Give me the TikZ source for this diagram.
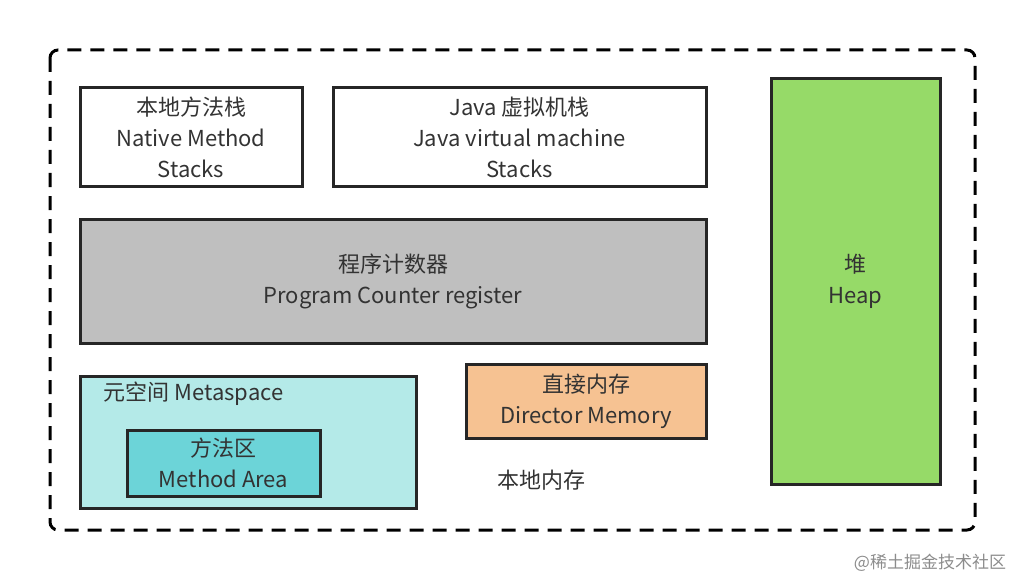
\documentclass[tikz,border=0pt]{standalone}
\usepackage{fontspec}
\setmainfont{Noto Sans CJK SC}
\begin{document}
\begin{tikzpicture}[x=1pt,y=-1pt,
 box/.style={draw=black!85,line width=3pt,align=center,font=\fontsize{22}{31}\selectfont,text=black!80},
 lbl/.style={font=\fontsize{22}{31}\selectfont,text=black!80}]
\useasboundingbox (0,0) rectangle (1024,580);
\draw[line width=3pt,dash pattern=on 14pt off 9pt,rounded corners=8pt] (50,50) rectangle (975,530);
\node[box,fill=white,minimum width=222pt,minimum height=98pt] (nat) at (191,137) {本地方法栈\\Native Method\\Stacks};
\node[box,fill=white,minimum width=373pt,minimum height=98pt] (jvm) at (519.5,137) {Java 虚拟机栈\\Java virtual machine\\Stacks};
\node[box,fill=black!25,minimum width=626pt,minimum height=124pt] (pc) at (393,281) {程序计数器\\Program Counter register};
\node[box,fill={rgb,255:red,150;green,218;blue,104},minimum width=169pt,minimum height=405pt] (heap) at (855.5,281.5) {堆\\Heap};
\node[box,fill={rgb,255:red,180;green,234;blue,232},minimum width=336pt,minimum height=132pt] (meta) at (248,442) {};
\node[lbl,anchor=west] (metat) at (100,394) {元空间 Metaspace};
\node[box,fill={rgb,255:red,108;green,212;blue,216},minimum width=193pt,minimum height=66pt] (ma) at (223.5,463) {方法区\\Method Area};
\node[box,fill={rgb,255:red,246;green,194;blue,146},minimum width=240pt,minimum height=74pt] (dm) at (586,401) {直接内存\\Director Memory};
\node[lbl] (local) at (541,480) {本地内存};
\node[font=\fontsize{17}{20}\selectfont,text=black!45] (wm) at (930,563) {@稀土掘金技术社区};
\end{tikzpicture}
\end{document}
